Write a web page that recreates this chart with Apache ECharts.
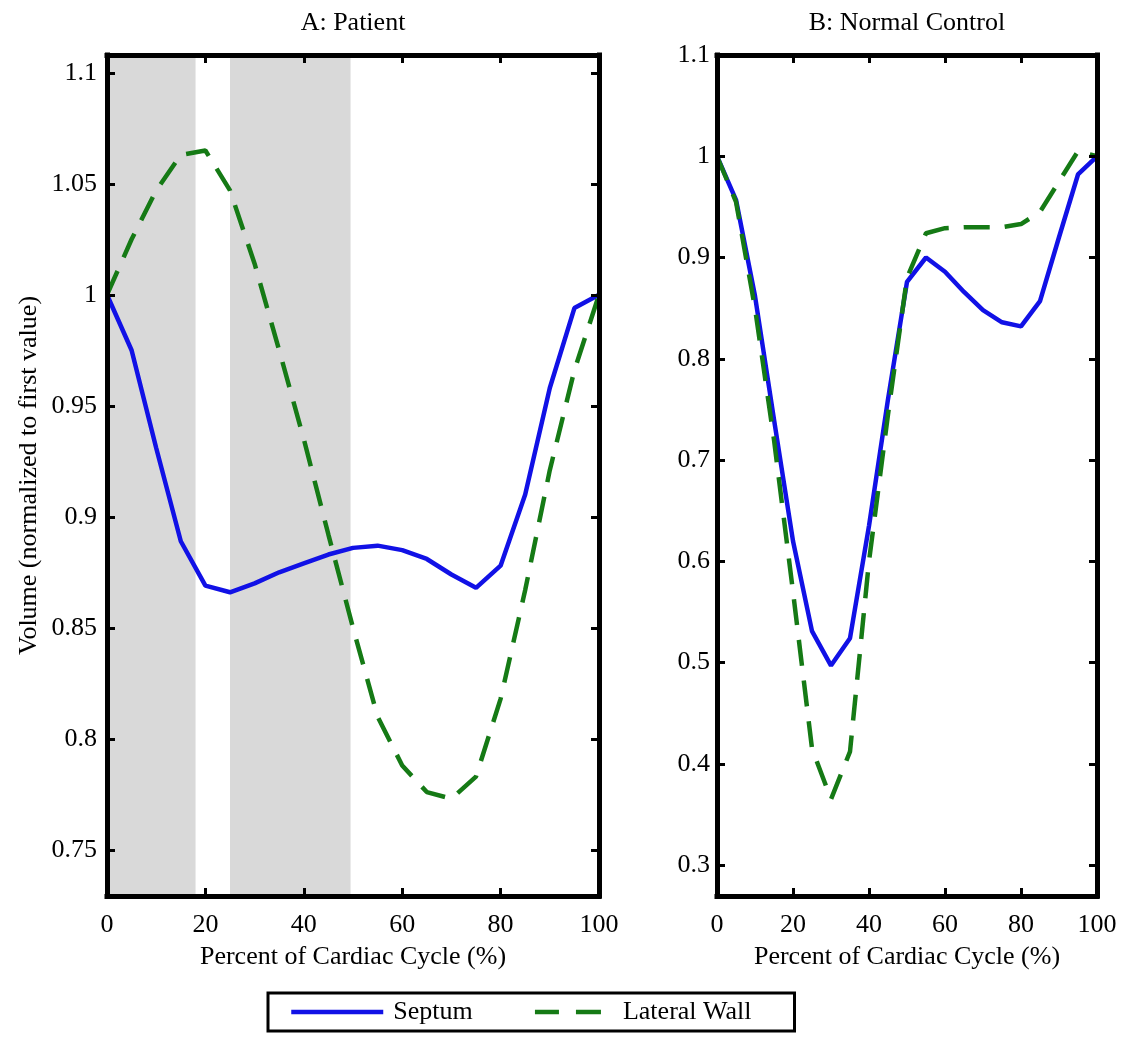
<!DOCTYPE html>
<html>
<head>
<meta charset="utf-8">
<script src="https://cdn.jsdelivr.net/npm/echarts@6/dist/echarts.min.js"></script>
<style>
  html, body { margin: 0; padding: 0; background: #fff; }
  #chart { width: 1126px; height: 1038px; }
</style>
</head>
<body>
<div id="chart"></div>
<script>
// Percent of cardiac cycle at which volumes were sampled
const cyclePct = [0, 5, 10, 15, 20, 25, 30, 35, 40, 45, 50, 55, 60, 65, 70, 75, 80, 85, 90, 95, 100];

// Panel A: patient (volume normalised to the first frame)
const patientSeptum  = [1.000, 0.975, 0.931, 0.889, 0.869, 0.866, 0.870, 0.875, 0.879, 0.883, 0.886, 0.887, 0.885, 0.881, 0.874, 0.868, 0.878, 0.910, 0.958, 0.994, 1.000];
const patientLateral = [1.000, 1.025, 1.047, 1.063, 1.065, 1.047, 1.014, 0.975, 0.935, 0.892, 0.850, 0.810, 0.788, 0.776, 0.773, 0.783, 0.818, 0.867, 0.921, 0.966, 1.000];

// Panel B: normal control
const controlSeptum  = [1.000, 0.957, 0.862, 0.740, 0.620, 0.531, 0.497, 0.524, 0.635, 0.760, 0.876, 0.900, 0.886, 0.866, 0.848, 0.836, 0.832, 0.857, 0.920, 0.982, 1.000];
const controlLateral = [1.000, 0.955, 0.850, 0.720, 0.570, 0.415, 0.365, 0.412, 0.600, 0.745, 0.880, 0.924, 0.929, 0.930, 0.930, 0.930, 0.933, 0.945, 0.975, 1.005, 1.000];

// Shaded intervals of the patient's cycle (percent)
const shadedSpans = [[0, 18], [25, 49.5]];

// Tick values
const patientYTicks = [0.75, 0.8, 0.85, 0.9, 0.95, 1, 1.05, 1.1];
const controlYTicks = [0.3, 0.4, 0.5, 0.6, 0.7, 0.8, 0.9, 1, 1.1];
const xTickStep = 20;

const FONT = "'Liberation Serif', 'Times New Roman', serif";
const BLUE = '#1111e6';
const GREEN = '#157a15';
const SHADE = '#d9d9d9';
const BORDER = 5;
// Boxed axes: every side keeps its own edge, ticks point into the plot
const AXIS_LINE = { show: true, onZero: false, lineStyle: { color: '#000', width: BORDER, cap: 'square' } };
const TICK = { show: true, inside: true, length: 8, lineStyle: { color: '#000', width: 3 } };

const toPairs = (ys) => cyclePct.map((x, i) => [x, ys[i]]);
const fmt = (v) => String(+(+v).toFixed(2));

function xAxisPair(gridIndex) {
  const common = {
    type: 'value', gridIndex, min: 0, max: 100, interval: xTickStep, z: 10,
    axisLine: AXIS_LINE,
    axisTick: Object.assign({}, TICK),
    splitLine: { show: false }
  };
  return [
    Object.assign({}, common, {
      position: 'bottom',
      name: 'Percent of Cardiac Cycle (%)',
      nameLocation: 'middle', nameGap: 48,
      nameTextStyle: { fontFamily: FONT, fontSize: 26, color: '#000' },
      axisLabel: { show: true, margin: 16, fontFamily: FONT, fontSize: 26, color: '#000', formatter: fmt }
    }),
    Object.assign({}, common, { position: 'top', axisLabel: { show: false } })
  ];
}

function yAxisPair(gridIndex, min, max, ticks, labelMargin, withName) {
  const common = {
    type: 'value', gridIndex, min, max, z: 10,
    axisLine: AXIS_LINE,
    axisTick: Object.assign({}, TICK, { customValues: ticks }),
    splitLine: { show: false }
  };
  const left = Object.assign({}, common, {
    position: 'left',
    axisLabel: { show: true, margin: labelMargin, customValues: ticks, fontFamily: FONT, fontSize: 26, color: '#000', formatter: fmt }
  });
  if (withName) {
    Object.assign(left, {
      name: 'Volume (normalized to first value)',
      nameLocation: 'middle', nameGap: 65, nameRotate: 90,
      nameTextStyle: { fontFamily: FONT, fontSize: 26, color: '#000' }
    });
  }
  return [left, Object.assign({}, common, { position: 'right', axisLabel: { show: false } })];
}

function lineSeries(name, xIdx, yIdx, ys, color, dashed) {
  return {
    name, type: 'line', xAxisIndex: xIdx, yAxisIndex: yIdx,
    data: toPairs(ys), symbol: 'none', smooth: false, z: 3,
    lineStyle: { color, width: 4.5, type: dashed ? [26, 15] : 'solid' },
    itemStyle: { color }
  };
}

const xA = xAxisPair(0), xB = xAxisPair(1);
const yA = yAxisPair(0, 0.7292, 1.108, patientYTicks, 10, true);
const yB = yAxisPair(1, 0.2694, 1.1, controlYTicks, 7, false);

const chart = echarts.init(document.getElementById('chart'), null, { renderer: 'canvas' });
chart.setOption({
  animation: false,
  backgroundColor: '#fff',
  title: [
    { text: 'A: Patient', left: 353, top: 10, padding: 0, textAlign: 'center',
      textStyle: { fontFamily: FONT, fontSize: 26, fontWeight: 'normal', color: '#000' } },
    { text: 'B: Normal Control', left: 907, top: 10, padding: 0, textAlign: 'center',
      textStyle: { fontFamily: FONT, fontSize: 26, fontWeight: 'normal', color: '#000' } }
  ],
  grid: [
    { left: 107, top: 55, width: 492, height: 841, containLabel: false },
    { left: 717, top: 55, width: 380, height: 841, containLabel: false }
  ],
  xAxis: [xA[0], xA[1], xB[0], xB[1]],
  yAxis: [yA[0], yA[1], yB[0], yB[1]],
  legend: {
    data: [
      { name: 'Septum' },
      { name: 'Lateral Wall', lineStyle: { type: [24, 17, 25, 100], dashOffset: 152 } }
    ],
    left: 268, top: 993,
    orient: 'horizontal',
    padding: [6, 43, 6, 21],
    itemWidth: 92, itemHeight: 14, itemGap: 46,
    borderColor: '#000', borderWidth: 3,
    backgroundColor: '#fff',
    selectedMode: false,
    itemStyle: { opacity: 0, borderWidth: 0 },
    lineStyle: { width: 4.5 },
    textStyle: { fontFamily: FONT, fontSize: 26, color: '#000', padding: [0, 0, 0, 5] }
  },
  series: [
    {
      name: 'shade', type: 'line', xAxisIndex: 0, yAxisIndex: 0, data: [], z: 1,
      silent: true, symbol: 'none',
      markArea: {
        silent: true,
        itemStyle: { color: SHADE, opacity: 1 },
        data: shadedSpans.map(s => [{ xAxis: s[0] }, { xAxis: s[1] }])
      }
    },
    lineSeries('Septum', 0, 0, patientSeptum, BLUE, false),
    lineSeries('Lateral Wall', 0, 0, patientLateral, GREEN, true),
    lineSeries('Septum', 2, 2, controlSeptum, BLUE, false),
    lineSeries('Lateral Wall', 2, 2, controlLateral, GREEN, true)
  ]
});
</script>
</body>
</html>
